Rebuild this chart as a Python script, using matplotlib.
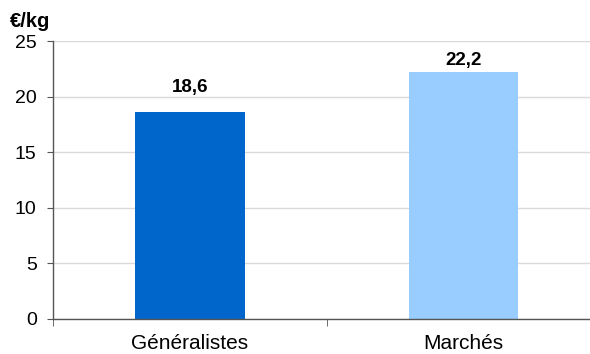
import matplotlib
matplotlib.use('Agg')
import matplotlib.pyplot as plt
from matplotlib.ticker import FixedLocator

categories = ['Généralistes', 'Marchés']
values = [18.6, 22.2]
value_labels = ['18,6', '22,2']
colors = ['#0066CC', '#99CCFF']
yticks = [0, 5, 10, 15, 20, 25]

plt.rcParams['font.family'] = ['Liberation Sans', 'DejaVu Sans']

fig = plt.figure(figsize=(5.9, 3.54), dpi=100)
# axes runs slightly past the right edge, as in the original
ax = fig.add_axes([0.0905, 0.099, 0.926, 0.785])

x = list(range(len(categories)))
bars = ax.bar(x, values, width=0.40, color=colors, zorder=2)
# label gap above each bar (the first one sits higher in the original)
gaps = [1.8, 0.65]
for b, lab, g in zip(bars, value_labels, gaps):
    ax.text(b.get_x() + b.get_width() / 2, b.get_height() + g, lab,
            ha='center', va='baseline', fontsize=13.5, fontweight='bold')

ax.set_xlim(-0.5, len(categories) - 0.5)
ax.set_ylim(0, 25)
ax.set_yticks(yticks)
ax.set_yticklabels([str(t) for t in yticks], fontsize=14)
ax.yaxis.grid(True, color='#D9D9D9', linewidth=1, zorder=0)
ax.set_axisbelow(True)

ax.set_xticks(x)
ax.set_xticklabels(categories, fontsize=15)
ax.tick_params(axis='x', which='major', length=0, pad=11)
ax.xaxis.set_minor_locator(FixedLocator([-0.5, 0.5, 1.5]))
ax.tick_params(axis='x', which='minor', length=5, direction='out', color='#555555')
ax.tick_params(axis='y', length=4, direction='out', color='#555555', pad=8)

for s in ['top', 'right']:
    ax.spines[s].set_visible(False)
for s in ['left', 'bottom']:
    ax.spines[s].set_color('#555555')
    ax.spines[s].set_linewidth(1)

fig.text(0.017, 0.94, '€/kg', fontsize=14.5, fontweight='bold', ha='left', va='center')

fig.savefig('out.png', dpi=100)
